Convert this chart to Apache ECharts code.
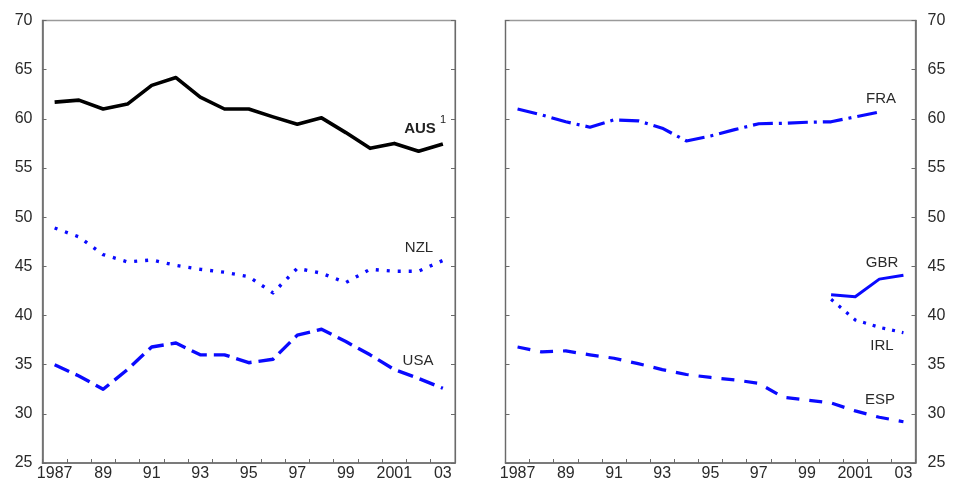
<!DOCTYPE html>
<html>
<head>
<meta charset="utf-8">
<script src="https://cdn.jsdelivr.net/npm/echarts@6/dist/echarts.min.js"></script>
<style>
  html, body { margin: 0; padding: 0; background: #fff; }
  #chart { width: 954px; height: 483px; }
</style>
</head>
<body>
<div id="chart"></div>
<script>
// Years on the horizontal axis (every other one is labelled)
const years = ['1987', '88', '89', '90', '91', '92', '93', '94', '95', '96',
               '97', '98', '99', '2000', '2001', '02', '03'];

// Left panel
const aus = [61.7, 61.9, 61.0, 61.5, 63.4, 64.2, 62.2, 61.0, 61.0, 60.2,
             59.45, 60.1, 58.6, 57.0, 57.5, 56.7, 57.45];
const nzl = [48.9, 48.0, 46.2, 45.45, 45.65, 45.1, 44.7, 44.4, 43.95, 42.3,
             44.8, 44.3, 43.35, 44.7, 44.5, 44.5, 45.6];
const usa = [35.0, 33.85, 32.5, 34.5, 36.8, 37.2, 36.0, 36.0, 35.2, 35.55,
             38.0, 38.6, 37.35, 36.0, 34.5, 33.6, 32.6];

// Right panel
const fra = [61.0, 60.4, 59.7, 59.15, 59.9, 59.8, 59.05, 57.75, 58.26, 58.9,
             59.5, 59.55, 59.65, 59.7, 60.2, 60.7, null];
const esp = [36.8, 36.3, 36.4, 36.0, 35.65, 35.1, 34.5, 34.0, 33.7, 33.45,
             33.1, 31.7, 31.4, 31.1, 30.3, 29.65, 29.2];
const gbr = [null, null, null, null, null, null, null, null, null, null,
             null, null, null, 42.1, 41.9, 43.7, 44.1];
const irl = [null, null, null, null, null, null, null, null, null, null,
             null, null, null, 41.65, 39.55, 38.8, 38.25];

const yMin = 25, yMax = 70, yStep = 5;

const FONT = 'Liberation Sans, Arial, Helvetica, sans-serif';
const AXIS_COLOR = '#6a6a6a';
const TEXT_COLOR = '#2a2a2a';
const BLUE = '#0a0aff';

const chart = echarts.init(document.getElementById('chart'), null, { renderer: 'canvas' });

function xAxisFor(gridIndex) {
  return {
    type: 'category',
    gridIndex: gridIndex,
    data: years,
    boundaryGap: true,
    axisLine: { show: true, lineStyle: { color: AXIS_COLOR, width: 1.6 } },
    axisTick: { show: true, inside: true, length: 4, interval: 0,
                lineStyle: { color: AXIS_COLOR, width: 1 } },
    axisLabel: { interval: 1, color: TEXT_COLOR, fontFamily: FONT, fontSize: 16, margin: 3 },
    splitLine: { show: false }
  };
}

function yAxisFor(gridIndex, position, withLabels) {
  return {
    type: 'value',
    gridIndex: gridIndex,
    position: position,
    min: yMin, max: yMax, interval: yStep,
    axisLine: { show: true, lineStyle: { color: AXIS_COLOR, width: withLabels ? 1.6 : 1.2 } },
    axisTick: { show: true, inside: true, length: 4, lineStyle: { color: AXIS_COLOR, width: 1 } },
    axisLabel: { show: withLabels, color: TEXT_COLOR, fontFamily: FONT, fontSize: 16,
                 margin: position === 'left' ? 10 : 12 },
    splitLine: { show: false }
  };
}

function lineSeries(name, data, xi, yi, color, width, type) {
  return {
    name: name,
    type: 'line',
    xAxisIndex: xi,
    yAxisIndex: yi,
    data: data,
    showSymbol: false,
    symbol: 'none',
    connectNulls: false,
    silent: true,
    lineStyle: { color: color, width: width, type: type, cap: 'butt', join: 'round' }
  };
}

const labelStyle = { fill: '#2a2a2a', font: '15px ' + FONT, textAlign: 'center', textVerticalAlign: 'middle' };

chart.setOption({
  animation: false,
  backgroundColor: '#fff',
  grid: [
    { left: 42.5, top: 20.5, width: 412.5, height: 442.5, show: true,
      borderColor: '#9a9a9a', borderWidth: 1.4, containLabel: false },
    { left: 505.5, top: 20.5, width: 410, height: 442.5, show: true,
      borderColor: '#9a9a9a', borderWidth: 1.4, containLabel: false }
  ],
  xAxis: [xAxisFor(0), xAxisFor(1)],
  yAxis: [
    yAxisFor(0, 'left', true),
    yAxisFor(0, 'right', false),
    yAxisFor(1, 'right', true),
    yAxisFor(1, 'left', false)
  ],
  series: [
    lineSeries('AUS', aus, 0, 0, '#000', 3.6, 'solid'),
    lineSeries('NZL', nzl, 0, 0, BLUE, 3.4, [3, 8]),
    lineSeries('USA', usa, 0, 0, BLUE, 3.4, [16, 7]),
    lineSeries('FRA', fra, 1, 2, BLUE, 3.2, [20, 6, 3, 6]),
    lineSeries('ESP', esp, 1, 2, BLUE, 3.2, [13, 10]),
    lineSeries('GBR', gbr, 1, 2, BLUE, 3.0, 'solid'),
    lineSeries('IRL', irl, 1, 2, BLUE, 3.2, [3, 7])
  ],
  graphic: [
    { type: 'text', x: 420, y: 129, style: Object.assign({}, labelStyle, {
        text: 'AUS', font: 'bold 15px ' + FONT, fill: '#222' }) },
    { type: 'text', x: 443, y: 120, style: Object.assign({}, labelStyle, {
        text: '1', font: '11px ' + FONT, fill: '#222' }) },
    { type: 'text', x: 419, y: 248, style: Object.assign({}, labelStyle, { text: 'NZL' }) },
    { type: 'text', x: 418, y: 361, style: Object.assign({}, labelStyle, { text: 'USA' }) },
    { type: 'text', x: 881, y: 99, style: Object.assign({}, labelStyle, { text: 'FRA' }) },
    { type: 'text', x: 882, y: 263, style: Object.assign({}, labelStyle, { text: 'GBR' }) },
    { type: 'text', x: 882, y: 346, style: Object.assign({}, labelStyle, { text: 'IRL' }) },
    { type: 'text', x: 880, y: 400, style: Object.assign({}, labelStyle, { text: 'ESP' }) }
  ]
});
</script>
</body>
</html>
